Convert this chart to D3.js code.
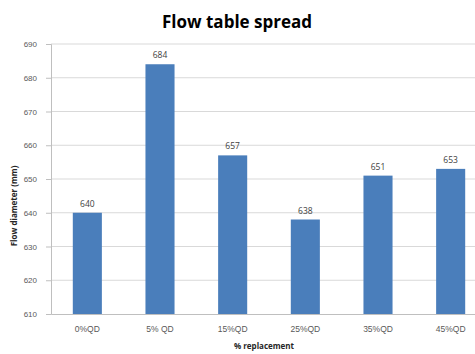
<!DOCTYPE html>
<html>
<head>
<meta charset="utf-8">
<script src="https://cdn.jsdelivr.net/npm/d3@7"></script>
<style>
  html, body { margin: 0; padding: 0; background: #fff; overflow: hidden; }
  svg { display: block; font-family: "Open Sans", Lato, sans-serif; }
</style>
</head>
<body>
<svg id="chart" width="475" height="354"></svg>
<script>
const categories = ["0%QD", "5% QD", "15%QD", "25%QD", "35%QD", "45%QD"];
const values = [640, 684, 657, 638, 651, 653];
const yTicks = [610, 620, 630, 640, 650, 660, 670, 680, 690];

const svg = d3.select("#chart");
const plot = { left: 51, right: 487, top: 44, bottom: 314 };

const x = d3.scaleBand().domain(categories).range([plot.left, plot.right]).paddingInner(0.6).paddingOuter(0.3);
const y = d3.scaleLinear().domain([610, 690]).range([plot.bottom, plot.top]);

// horizontal gridlines
svg.append("g")
  .selectAll("line")
  .data(yTicks.slice(1))
  .join("line")
  .attr("x1", plot.left).attr("x2", plot.right)
  .attr("y1", d => y(d)).attr("y2", d => y(d))
  .attr("stroke", "#d9d9d9").attr("stroke-width", 1);

// y axis
const yAxis = svg.append("g")
  .attr("transform", `translate(${plot.left},0)`)
  .call(d3.axisLeft(y).tickValues(yTicks).tickSize(5).tickPadding(9));
yAxis.select(".domain").attr("stroke", "#bfbfbf");
yAxis.selectAll(".tick line").attr("stroke", "#bfbfbf");
yAxis.selectAll(".tick text").attr("fill", "#595959").style("font-size", "8px");

// bars
svg.append("g")
  .selectAll("rect")
  .data(values)
  .join("rect")
  .attr("x", (d, i) => x(categories[i]))
  .attr("width", x.bandwidth())
  .attr("y", d => y(d))
  .attr("height", d => y(610) - y(d))
  .attr("fill", "#4a7ebb");

// value labels
svg.append("g")
  .selectAll("text")
  .data(values)
  .join("text")
  .attr("x", (d, i) => x(categories[i]) + x.bandwidth() / 2)
  .attr("y", d => y(d) - 6)
  .attr("text-anchor", "middle")
  .attr("fill", "#404040")
  .style("font-size", "8.5px")
  .text(d => d);

// x axis
const xAxis = svg.append("g")
  .attr("transform", `translate(0,${plot.bottom})`)
  .call(d3.axisBottom(x).tickSize(0).tickPadding(12));
xAxis.select(".domain").attr("stroke", "#bfbfbf");
xAxis.selectAll(".tick text").attr("fill", "#595959").style("font-size", "8.5px");

// titles
svg.append("text")
  .attr("x", 237).attr("y", 28)
  .attr("text-anchor", "middle")
  .style("font-size", "17px").style("font-weight", "bold")
  .attr("fill", "#000")
  .text("Flow table spread");

svg.append("text")
  .attr("x", 264).attr("y", 349)
  .attr("text-anchor", "middle")
  .style("font-size", "8px").style("font-weight", "bold")
  .attr("fill", "#262626")
  .text("% replacement");

svg.append("text")
  .attr("transform", "translate(17,206) rotate(-90)")
  .attr("text-anchor", "middle")
  .style("font-size", "8px").style("font-weight", "bold")
  .attr("fill", "#262626")
  .text("Flow diameter (mm)");
</script>
</body>
</html>
